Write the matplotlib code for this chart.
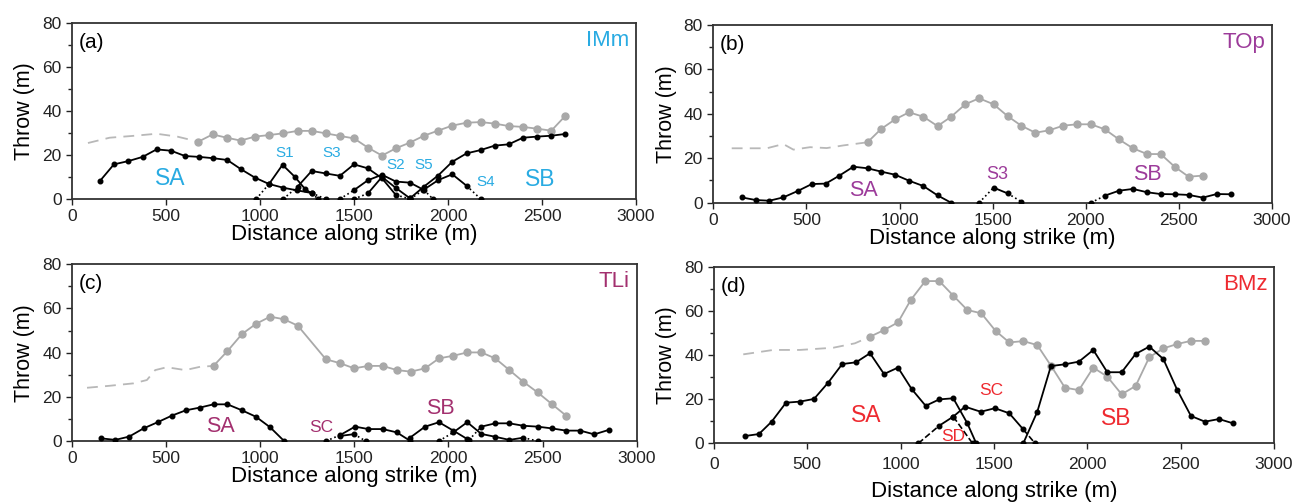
import matplotlib
matplotlib.use("Agg")
import matplotlib.pyplot as plt
from matplotlib.ticker import MultipleLocator

plt.rcParams["font.family"] = ["Liberation Sans", "DejaVu Sans"]

# ---- panel (a) IMm ----
a_ref_dash_x = [85, 200, 320, 450, 560, 672]
a_ref_dash_y = [25.4, 27.8, 28.6, 29.6, 28.3, 26.0]
a_ref_x = [672, 748, 823, 897, 973, 1048, 1124, 1200, 1275, 1349, 1425, 1500, 1574, 1649,
           1723, 1798, 1872, 1947, 2023, 2099, 2174, 2248, 2323, 2399, 2473, 2550, 2624]
a_ref_y = [26.0, 29.3, 27.8, 26.5, 28.3, 29.0, 29.8, 30.9, 30.9, 29.8, 28.6, 27.5, 23.3, 19.7,
           23.0, 25.6, 28.7, 31.0, 33.3, 34.6, 34.9, 34.2, 33.1, 32.7, 31.9, 31.0, 37.7]
a_sa_x = [149, 223, 300, 376, 450, 527, 601, 676, 752, 826, 899, 973, 1048, 1124, 1198, 1275, 1349]
a_sa_y = [8.2, 15.7, 17.2, 19.1, 22.5, 21.9, 19.5, 19.1, 18.5, 17.7, 13.5, 9.7, 6.8, 5.1, 3.9, 2.7, 0]
a_s1_x = [980, 1050, 1120, 1186, 1240, 1275, 1310]
a_s1_y = [0, 7, 15.5, 10, 4.5, 2.5, 0]
a_s3_x = [1124, 1200, 1275, 1349, 1425, 1500, 1574, 1649, 1723, 1800]
a_s3_y = [0, 5.6, 12.7, 11.6, 10.5, 15.7, 13.9, 9.4, 1.8, 0]
a_s2_x = [1425, 1500, 1574, 1649, 1723, 1798, 1872, 1920]
a_s2_y = [0, 4, 8.5, 11, 7.9, 7.4, 4.1, 0]
a_s5_x = [1500, 1574, 1649, 1723, 1798]
a_s5_y = [0, 2.5, 10, 5, 0.3]
a_s4_x = [1800, 1869, 1949, 2023, 2099, 2174]
a_s4_y = [0, 4.1, 8.6, 11.2, 6.0, 0]
a_sb_x = [1798, 1872, 1947, 2023, 2099, 2174, 2248, 2323, 2399, 2473, 2550, 2624]
a_sb_y = [0.3, 5.6, 10.6, 16.9, 20.7, 22.2, 24.2, 24.8, 27.8, 28.3, 28.7, 29.5]

# ---- panel (b) TOp ----
b_ref_dash_x = [99, 287, 376, 430, 520, 609, 699, 828]
b_ref_dash_y = [24.5, 24.5, 26.4, 23.9, 25.0, 24.6, 25.8, 27.2]
b_ref_x = [828, 901, 976, 1051, 1128, 1204, 1277, 1353, 1427, 1505, 1580, 1653, 1729, 1804,
           1879, 1954, 2028, 2103, 2178, 2253, 2329, 2402, 2477, 2552, 2628]
b_ref_y = [27.2, 33.2, 37.5, 40.7, 38.7, 34.5, 38.7, 44.3, 47.0, 44.3, 39.0, 34.7, 31.5, 32.6,
           34.7, 35.3, 35.3, 33.0, 28.5, 24.5, 21.9, 21.9, 16.2, 11.7, 12.2]
b_sa_x = [152, 228, 301, 376, 454, 529, 604, 677, 752, 828, 901, 976, 1051, 1128, 1204, 1277]
b_sa_y = [2.4, 1.2, 0.9, 2.4, 5.3, 8.4, 8.6, 12.2, 16.2, 15.5, 14.0, 12.6, 9.9, 7.5, 3.3, 0]
b_s3_x = [1427, 1505, 1580, 1653]
b_s3_y = [0, 6.8, 4.2, 0.5]
b_sb_x = [2028, 2103, 2178, 2253, 2329, 2402, 2477, 2552, 2628, 2703, 2778]
b_sb_y = [0, 3.2, 5.4, 6.2, 4.7, 3.9, 3.8, 3.5, 2.3, 3.9, 3.8]

# ---- panel (c) TLi ----
c_ref_dash_x = [80, 200, 327, 398, 442, 504, 602, 681, 752]
c_ref_dash_y = [24.1, 25.0, 26.1, 27.6, 32.1, 33.4, 32.1, 33.6, 34.0]
c_ref_x = [752, 826, 903, 977, 1053, 1127, 1200, 1349, 1425, 1499, 1575, 1651, 1726, 1800,
           1876, 1950, 2026, 2100, 2175, 2249, 2324, 2398, 2474, 2550, 2625]
c_ref_y = [34.0, 40.7, 48.4, 53.0, 56.3, 55.1, 52.2, 37.0, 35.2, 32.9, 34.0, 34.0, 32.1, 31.4,
           32.9, 37.4, 38.6, 40.1, 40.1, 37.4, 32.1, 26.8, 22.0, 16.7, 11.5]
c_sa_x = [154, 230, 304, 380, 455, 531, 605, 678, 752, 826, 903, 977, 1053, 1127]
c_sa_y = [1.2, 0.5, 2.0, 5.7, 8.5, 11.5, 13.9, 15.1, 16.6, 16.6, 13.9, 11.0, 6.2, 0]
c_sc_x = [1350, 1425, 1504, 1575, 1651, 1726, 1796]
c_sc_y = [0, 2.7, 6.5, 5.4, 5.4, 3.9, 0.1]
c_sc2_x = [1425, 1499, 1560]
c_sc2_y = [2.3, 3.1, 0]
c_sb1_x = [1796, 1876, 1950, 2026, 2100]
c_sb1_y = [1.5, 6.5, 8.5, 4.7, 0.9]
c_sb2_x = [1950, 2026, 2100, 2175, 2249, 2324, 2398, 2474]
c_sb2_y = [0, 3.9, 8.5, 3.2, 1.9, 0.5, 1.5, 0]
c_sb3_x = [2110, 2175, 2249, 2324, 2398, 2474, 2550, 2625, 2700, 2775, 2851]
c_sb3_y = [0.5, 6.5, 8.0, 8.0, 6.9, 6.5, 5.7, 4.7, 4.7, 3.0, 5.0]

# ---- panel (d) BMz ----
d_ref_dash_x = [157, 318, 460, 639, 755, 836]
d_ref_dash_y = [40.3, 42.3, 42.3, 43.3, 45.3, 48.3]
d_ref_x = [836, 911, 986, 1054, 1132, 1207, 1282, 1357, 1432, 1509, 1582, 1657, 1732, 1805,
           1880, 1955, 2032, 2107, 2184, 2259, 2332, 2407, 2482, 2555, 2630]
d_ref_y = [48.3, 51.3, 54.8, 64.9, 73.5, 73.5, 66.9, 60.4, 58.9, 50.9, 45.7, 46.3, 44.5, 35.2,
           25.2, 24.1, 34.3, 30.2, 22.2, 26.0, 39.0, 43.0, 45.0, 46.4, 46.4]
d_sa_x = [166, 241, 309, 386, 461, 536, 612, 687, 761, 836, 911, 986, 1059, 1134, 1207, 1282,
          1357, 1405]
d_sa_y = [3.3, 4.2, 9.8, 18.4, 18.9, 20.1, 27.5, 35.9, 36.7, 40.8, 31.4, 34.3, 24.6, 17.0,
          19.9, 20.4, 9.1, 0]
d_sd_x = [1095, 1207, 1282, 1385]
d_sd_y = [0, 8.0, 12.1, 0]
d_sc_x = [1282, 1345, 1429, 1505, 1582, 1657, 1720]
d_sc_y = [12.1, 16.6, 14.3, 15.9, 13.6, 6.3, 0]
d_sb_x = [1657, 1732, 1805, 1880, 1955, 2032, 2107, 2184, 2259, 2332, 2407, 2482, 2555, 2630,
          2705, 2779]
d_sb_y = [0, 14.3, 35.0, 35.8, 37.0, 42.3, 32.2, 32.2, 40.5, 43.8, 38.2, 24.1, 12.4, 9.8,
          11.0, 9.1]

GRAY = "#a9a9a9"


def fault(ax, x, y, head=False, tail=False, dash=":"):
    # solid middle, dotted/dashed tips where the fault dies out
    i0 = 1 if head else 0
    i1 = len(x) - 1 if tail else len(x)
    ax.plot(x[i0:i1], y[i0:i1], "-", color="k", lw=1.3, zorder=3)
    if head:
        ax.plot(x[:2], y[:2], ls=dash, color="k", lw=1.2, zorder=3)
    if tail:
        ax.plot(x[-2:], y[-2:], ls=dash, color="k", lw=1.2, zorder=3)
    ax.plot(x, y, "o", color="k", ms=3.3, zorder=4, ls="none")


def base(ax, dx, dy, rx, ry, tag, name, color):
    ax.plot(dx, dy, "--", color="#b8b8b8", lw=1.3, dashes=(6, 4), zorder=2)
    ax.plot(rx, ry, "-", color=GRAY, lw=1.3, marker="o", ms=5, zorder=2)
    ax.set_xlim(0, 3000)
    ax.set_ylim(0, 80)
    ax.xaxis.set_major_locator(MultipleLocator(500))
    ax.yaxis.set_major_locator(MultipleLocator(20))
    ax.yaxis.set_minor_locator(MultipleLocator(10))
    ax.tick_params(which="both", direction="out", labelsize=12.5, colors="#222222", width=1)
    ax.tick_params(which="major", length=4)
    ax.tick_params(which="minor", length=3)
    for s in ax.spines.values():
        s.set_linewidth(1.3)
        s.set_color("#333333")
    ax.set_ylabel("Throw (m)", fontsize=15.5, labelpad=5)
    ax.set_xlabel("Distance along strike (m)", fontsize=16, labelpad=0)
    ax.text(0.012, 0.89, tag, transform=ax.transAxes, fontsize=15, ha="left", va="center")
    ax.text(0.988, 0.90, name, transform=ax.transAxes, fontsize=16, ha="right", va="center",
            color=color)


fig = plt.figure(figsize=(13.04, 5.04), dpi=100)
ax_a = fig.add_axes([0.0552, 0.6052, 0.4325, 0.3498])
ax_b = fig.add_axes([0.547, 0.5978, 0.4285, 0.3526])
ax_c = fig.add_axes([0.0552, 0.125, 0.4330, 0.3506])
ax_d = fig.add_axes([0.5475, 0.1204, 0.4295, 0.3504])

# (a)
c_a = "#29abe2"
base(ax_a, a_ref_dash_x, a_ref_dash_y, a_ref_x, a_ref_y, "(a)", "IMm", c_a)
fault(ax_a, a_sa_x, a_sa_y, tail=True)
fault(ax_a, a_s1_x, a_s1_y, head=True, tail=True)
fault(ax_a, a_s3_x, a_s3_y, head=True, tail=True)
fault(ax_a, a_s2_x, a_s2_y, head=True, tail=True)
fault(ax_a, a_s5_x, a_s5_y, head=True)
fault(ax_a, a_s4_x, a_s4_y, head=True, tail=True)
fault(ax_a, a_sb_x, a_sb_y)
ax_a.text(521, 9.4, "SA", color=c_a, fontsize=16.5, ha="center", va="center")
ax_a.text(2489, 8.9, "SB", color=c_a, fontsize=16.5, ha="center", va="center")
for lab, lx, ly in [("S1", 1134, 21), ("S3", 1381, 21), ("S2", 1723, 15.4),
                    ("S5", 1869, 15.4), ("S4", 2200, 7.9)]:
    ax_a.text(lx, ly, lab, color=c_a, fontsize=11, ha="center", va="center")

# (b)
c_b = "#9c3b9a"
base(ax_b, b_ref_dash_x, b_ref_dash_y, b_ref_x, b_ref_y, "(b)", "TOp", c_b)
fault(ax_b, b_sa_x, b_sa_y)
fault(ax_b, b_s3_x, b_s3_y, head=True, tail=True)
fault(ax_b, b_sb_x, b_sb_y, head=True)
ax_b.text(806, 5.7, "SA", color=c_b, fontsize=15.5, ha="center", va="center")
ax_b.text(1523, 12.5, "S3", color=c_b, fontsize=13, ha="center", va="center")
ax_b.text(2329, 12.5, "SB", color=c_b, fontsize=15.5, ha="center", va="center")

# (c)
c_c = "#a3306f"
base(ax_c, c_ref_dash_x, c_ref_dash_y, c_ref_x, c_ref_y, "(c)", "TLi", c_c)
fault(ax_c, c_sa_x, c_sa_y)
fault(ax_c, c_sc_x, c_sc_y, head=True)
fault(ax_c, c_sc2_x, c_sc2_y, tail=True)
fault(ax_c, c_sb1_x, c_sb1_y)
fault(ax_c, c_sb2_x, c_sb2_y, head=True, tail=True)
fault(ax_c, c_sb3_x, c_sb3_y, head=True)
ax_c.text(787, 6.5, "SA", color=c_c, fontsize=15.5, ha="center", va="center")
ax_c.text(1327, 6.0, "SC", color=c_c, fontsize=12.5, ha="center", va="center")
ax_c.text(1956, 14.8, "SB", color=c_c, fontsize=15.5, ha="center", va="center")

# (d)
c_d = "#ee2a30"
base(ax_d, d_ref_dash_x, d_ref_dash_y, d_ref_x, d_ref_y, "(d)", "BMz", c_d)
ax_d.xaxis.labelpad = 6
ax_d.tick_params(axis="x", pad=6)
fault(ax_d, d_sa_x, d_sa_y)
fault(ax_d, d_sd_x, d_sd_y, head=True, tail=True, dash="--")
fault(ax_d, d_sc_x, d_sc_y, tail=True, dash="--")
fault(ax_d, d_sb_x, d_sb_y)
ax_d.text(818, 12.8, "SA", color=c_d, fontsize=16.5, ha="center", va="center")
ax_d.text(1282, 3.0, "SD", color=c_d, fontsize=12.5, ha="center", va="center")
ax_d.text(1488, 24.1, "SC", color=c_d, fontsize=12.5, ha="center", va="center")
ax_d.text(2157, 11.3, "SB", color=c_d, fontsize=16.5, ha="center", va="center")

fig.savefig("out.png", dpi=100)
